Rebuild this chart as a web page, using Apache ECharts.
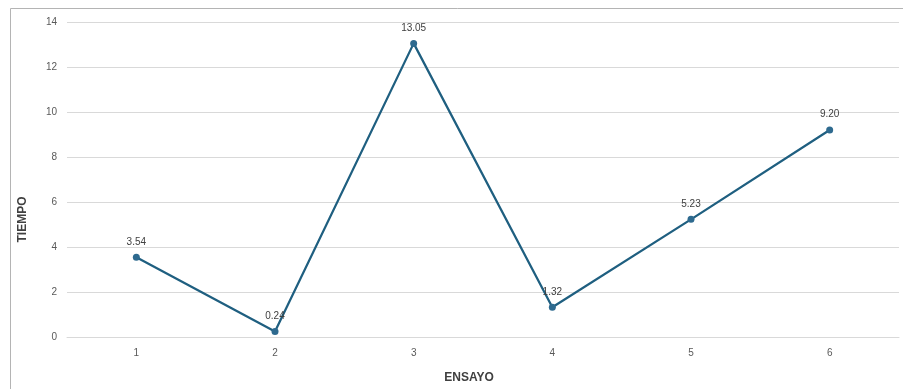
<!DOCTYPE html>
<html>
<head>
<meta charset="utf-8">
<script src="https://cdn.jsdelivr.net/npm/echarts@6/dist/echarts.min.js"></script>
<style>
  html, body { margin: 0; padding: 0; background: #ffffff; }
  #chart { width: 903px; height: 389px; }
</style>
</head>
<body>
<div id="chart"></div>
<script>
// Tiempo registrado en cada ensayo
const ensayos = ['1', '2', '3', '4', '5', '6'];
const tiempos = [3.54, 0.24, 13.05, 1.32, 5.23, 9.20];
const yTicks = { min: 0, max: 14, interval: 2 };

const fontFam = '"Liberation Sans", "Open Sans", sans-serif';
const lineColor = '#1f5f80';
const dotColor = '#2e6a8f';

const chart = echarts.init(document.getElementById('chart'), null, { renderer: 'canvas' });
chart.setOption({
  backgroundColor: '#ffffff',
  animation: false,
  graphic: [{
    type: 'rect',
    shape: { x: 10.5, y: 8.5, width: 1000, height: 1000 },
    style: { fill: 'none', stroke: '#b4b4b4', lineWidth: 1 },
    silent: true
  }],
  grid: { left: 67, right: 4, top: 22, bottom: 51 },
  xAxis: {
    type: 'category',
    data: ensayos,
    boundaryGap: true,
    name: 'ENSAYO',
    nameLocation: 'middle',
    nameGap: 35,
    nameTextStyle: { fontFamily: fontFam, fontSize: 12, fontWeight: 'bold', color: '#404040', padding: [0, 28, 0, 0] },
    axisLine: { show: true, lineStyle: { color: '#d9d9d9', width: 1 } },
    axisTick: { show: false },
    axisLabel: { fontFamily: fontFam, fontSize: 10, color: '#595959', margin: 11 }
  },
  yAxis: {
    type: 'value',
    min: yTicks.min,
    max: yTicks.max,
    interval: yTicks.interval,
    name: 'TIEMPO',
    nameLocation: 'middle',
    nameRotate: 90,
    nameGap: 38,
    nameTextStyle: { fontFamily: fontFam, fontSize: 12, fontWeight: 'bold', color: '#404040', padding: [0, 80, 0, 0] },
    axisLine: { show: false },
    axisTick: { show: false },
    axisLabel: { fontFamily: fontFam, fontSize: 10, color: '#595959', margin: 10 },
    splitLine: { lineStyle: { color: '#d9d9d9', width: 1 } }
  },
  series: [{
    type: 'line',
    data: tiempos,
    symbol: 'circle',
    symbolSize: 7,
    lineStyle: { color: lineColor, width: 2.25 },
    itemStyle: { color: dotColor },
    label: {
      show: true,
      position: 'top',
      distance: 7,
      fontFamily: fontFam,
      fontSize: 10,
      color: '#404040',
      formatter: p => p.value.toFixed(2)
    }
  }]
});
</script>
</body>
</html>
